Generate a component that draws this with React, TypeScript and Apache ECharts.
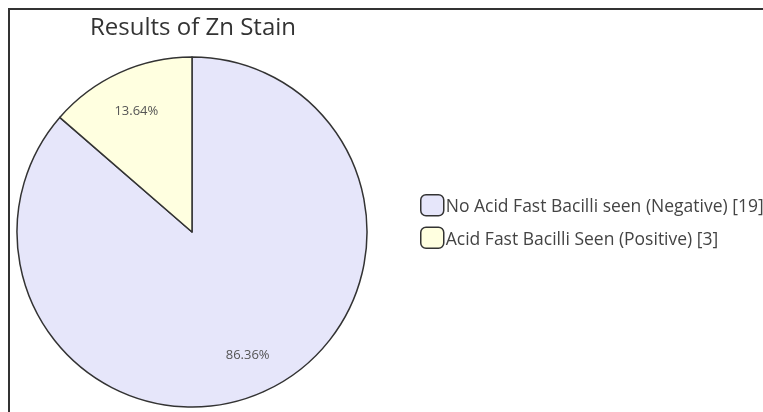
import React, { useEffect, useRef } from "react";
import * as echarts from "echarts";

const titleText = "Results of Zn Stain";
const categories = [
  "No Acid Fast Bacilli seen (Negative)",
  "Acid Fast Bacilli Seen (Positive)",
];
const counts = [19, 3];
const sliceColors = ["#e6e6fa", "#ffffe0"];

const FONT = "'Open Sans', sans-serif";

export default function App() {
  const ref = useRef<HTMLDivElement>(null);

  useEffect(() => {
    if (!ref.current) return;
    const chart = echarts.init(ref.current, undefined, { renderer: "svg" });
    const data = categories.map((name, i) => ({
      name,
      value: counts[i],
      itemStyle: { color: sliceColors[i] },
    }));
    chart.setOption({
      animation: false,
      title: {
        text: titleText,
        left: 80,
        top: 3,
        padding: 0,
        textStyle: {
          fontFamily: FONT,
          fontSize: 24,
          fontWeight: "normal",
          color: "#333",
        },
      },
      legend: {
        orient: "vertical",
        left: 410,
        top: 184,
        padding: 0,
        itemWidth: 23,
        itemHeight: 21,
        itemGap: 10,
        icon: "roundRect",
        data: categories,
        itemStyle: { borderColor: "#333", borderWidth: 1.5 },
        formatter: (name: string) => {
          const i = categories.indexOf(name);
          return `${name} [${counts[i]}]`;
        },
        textStyle: {
          fontFamily: FONT,
          fontSize: 17.5,
          color: "#444",
          padding: [0, 0, 0, -3],
        },
      },
      series: [
        {
          type: "pie",
          center: [182, 222],
          radius: 175,
          startAngle: 90,
          clockwise: true,
          data,
          itemStyle: { borderColor: "#333", borderWidth: 1.5 },
          label: { show: false },
          labelLine: { show: false },
          emphasis: { disabled: true },
        },
        {
          type: "pie",
          center: [182, 222],
          radius: [87, 175],
          startAngle: 90,
          clockwise: true,
          silent: true,
          data: categories.map((name, i) => ({ name, value: counts[i] })),
          itemStyle: { color: "transparent", borderWidth: 0 },
          label: {
            show: true,
            position: "inside",
            formatter: "{d}%",
            fontFamily: FONT,
            fontSize: 13,
            color: "#555",
          },
          labelLine: { show: false },
          emphasis: { disabled: true },
        },
      ],
    });
    return () => chart.dispose();
  }, []);

  return (
    <div
      style={{
        position: "fixed",
        left: 8,
        top: 8,
        width: 755,
        height: 404,
        overflow: "hidden",
      }}
    >
      <div
        style={{
          width: 800,
          height: 420,
          border: "2px solid #333",
          boxSizing: "content-box",
        }}
      >
        <div ref={ref} style={{ width: 800, height: 420 }} />
      </div>
    </div>
  );
}
